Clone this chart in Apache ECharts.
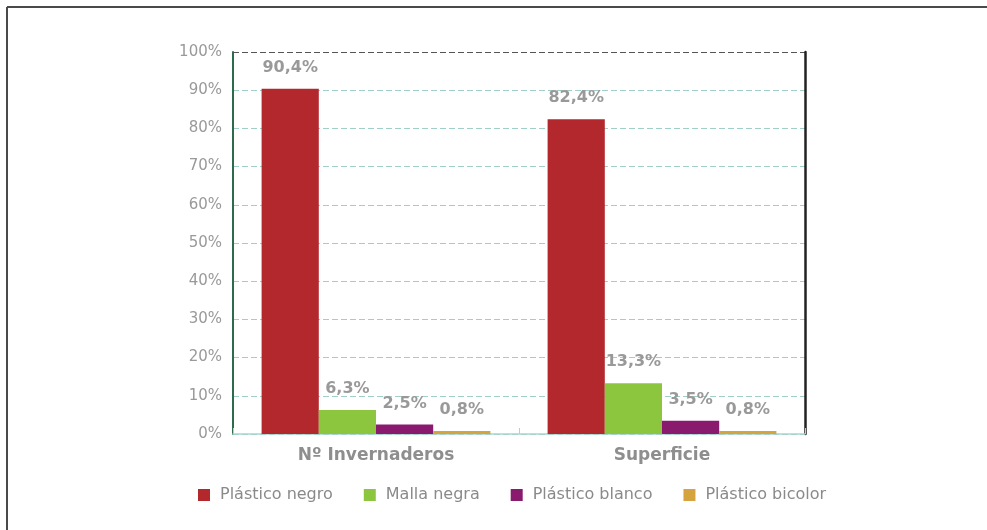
<!DOCTYPE html>
<html>
<head>
<meta charset="utf-8">
<style>
  html, body { margin: 0; padding: 0; background: #ffffff; }
  #chart { width: 987px; height: 530px; }
</style>
<script src="https://cdn.jsdelivr.net/npm/echarts@6/dist/echarts.min.js"></script>
</head>
<body>
<div id="chart"></div>
<script>
// Categories and series (percent of greenhouses / of surface)
const categories = ['Nº Invernaderos', 'Superficie'];
const plasticoNegro = [90.4, 82.4];
const mallaNegra = [6.3, 13.3];
const plasticoBlanco = [2.5, 3.5];
const plasticoBicolor = [0.8, 0.8];
const seriesNames = ['Plástico negro', 'Malla negra', 'Plástico blanco', 'Plástico bicolor'];
const seriesColors = ['#B3282D', '#8CC63F', '#8A1A6E', '#D5A43F'];

const chart = echarts.init(document.getElementById('chart'), null, { renderer: 'canvas' });

const valueLabel = {
  show: true,
  position: 'top',
  distance: 13,
  fontFamily: 'DejaVu Sans',
  fontWeight: 'bold',
  fontSize: 16,
  color: '#999999',
  formatter: p => p.value.toFixed(1).replace('.', ',') + '%'
};

function barSeries(name, data, color) {
  return {
    name: name,
    type: 'bar',
    data: data,
    barGap: '0%',
    barCategoryGap: '20%',
    itemStyle: { color: color },
    label: valueLabel
  };
}

// grid lines: light teal dashes, the 100% line darker
const splitColors = [];
for (let i = 0; i < 10; i++) splitColors.push('#9fcfc6');
splitColors.push('#555555');

chart.setOption({
  animation: false,
  backgroundColor: '#ffffff',
  textStyle: { fontFamily: 'DejaVu Sans' },
  grid: { left: 233, right: 182, top: 52, bottom: 96 },
  legend: {
    data: seriesNames,
    left: 193,
    top: 482,
    itemGap: 31,
    itemWidth: 12,
    itemHeight: 12,
    icon: 'rect',
    textStyle: {
      color: '#8a8a8a',
      fontSize: 16,
      fontFamily: 'DejaVu Sans',
      padding: [0, 0, 0, 5]
    }
  },
  xAxis: {
    type: 'category',
    data: categories,
    axisLine: { lineStyle: { color: '#a9d6cf', width: 1.5 } },
    axisTick: { show: true, inside: true, length: 6, lineStyle: { color: '#a9d6cf' } },
    axisLabel: {
      margin: 13,
      fontFamily: 'DejaVu Sans',
      fontWeight: 'bold',
      fontSize: 17,
      color: '#8e8e8e'
    }
  },
  yAxis: [
    {
      type: 'value',
      min: 0,
      max: 100,
      interval: 10,
      axisLine: { show: true, lineStyle: { color: '#2c6b4c', width: 2 } },
      axisTick: { show: false },
      axisLabel: {
        formatter: '{value}%',
        margin: 11,
        fontFamily: 'DejaVu Sans',
        fontSize: 15,
        color: '#999999'
      },
      splitLine: {
        show: true,
        lineStyle: { color: splitColors, type: [6, 3], width: 1 }
      }
    },
    {
      type: 'value',
      position: 'right',
      min: 0,
      max: 100,
      interval: 10,
      axisLine: { show: true, lineStyle: { color: '#222222', width: 2.5 } },
      axisTick: { show: false },
      axisLabel: { show: false },
      splitLine: { show: false }
    }
  ],
  series: [
    barSeries(seriesNames[0], plasticoNegro, seriesColors[0]),
    barSeries(seriesNames[1], mallaNegra, seriesColors[1]),
    barSeries(seriesNames[2], plasticoBlanco, seriesColors[2]),
    barSeries(seriesNames[3], plasticoBicolor, seriesColors[3])
  ],
  graphic: [
    // outer frame: top and left edges
    { type: 'line', shape: { x1: 7, y1: 7, x2: 987, y2: 7 }, style: { stroke: '#4a4a4a', lineWidth: 2 } },
    { type: 'line', shape: { x1: 7, y1: 7, x2: 7, y2: 530 }, style: { stroke: '#4a4a4a', lineWidth: 2 } }
  ]
});
</script>
</body>
</html>
